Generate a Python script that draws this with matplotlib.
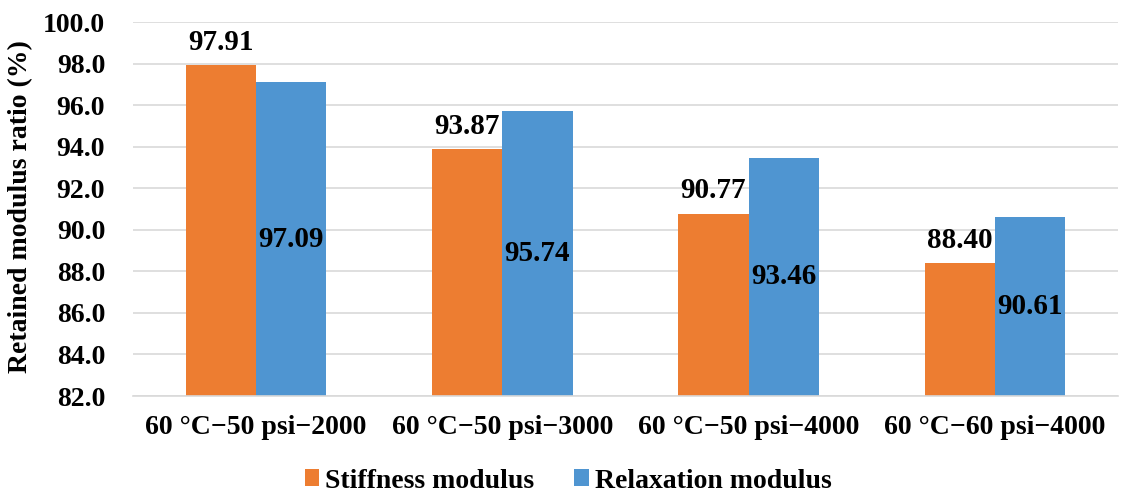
import matplotlib
matplotlib.use("Agg")
import matplotlib.pyplot as plt
import numpy as np

categories = ["60 \u00b0C\u221250 psi\u22122000", "60 \u00b0C\u221250 psi\u22123000",
              "60 \u00b0C\u221250 psi\u22124000", "60 \u00b0C\u221260 psi\u22124000"]
stiffness = [97.91, 93.87, 90.77, 88.40]
relaxation = [97.09, 95.74, 93.46, 90.61]
yticks = [82, 84, 86, 88, 90, 92, 94, 96, 98, 100]

plt.rcParams['font.family'] = ['Liberation Serif', 'DejaVu Serif']
plt.rcParams['font.weight'] = 'bold'

fig = plt.figure(figsize=(11.26, 4.96), dpi=100)
ax = fig.add_axes([133/1126, 1-396/496, (1118-133)/1126, (396-22)/496])

x = np.arange(len(categories))
w = 0.285
orange = '#ED7D31'
blue = '#4F95D1'
b1 = ax.bar(x - w/2, stiffness, w, bottom=0, color=orange, label='Stiffness modulus', zorder=2)
b2 = ax.bar(x + w/2, relaxation, w, bottom=0, color=blue, label='Relaxation modulus', zorder=2)

fs = 20
ax.set_ylim(82, 100)
ax.set_xlim(-0.5, len(categories) - 0.5)
ax.set_yticks(yticks)
ax.set_yticklabels([f"{v:.1f}" for v in yticks], fontsize=fs, fontweight='bold')
ax.set_xticks(x)
ax.set_xticklabels(categories, fontsize=fs, fontweight='bold')
ax.tick_params(axis='both', length=0)
ax.tick_params(axis='y', pad=20)
ax.tick_params(axis='x', pad=14)
ax.grid(axis='y', color='#D9D9D9', linewidth=1.2, zorder=0)
for s in ['top', 'right', 'left']:
    ax.spines[s].set_visible(False)
ax.spines['bottom'].set_color('#D9D9D9')
ax.spines['bottom'].set_linewidth(1.2)

for xi, v in zip(x, stiffness):
    ax.text(xi - w/2, v + 0.45, f"{v:.2f}", ha='center', va='bottom', fontsize=21, fontweight='bold')
for xi, v in zip(x, relaxation):
    ax.text(xi + w/2, (v + 82) / 2, f"{v:.2f}", ha='center', va='center', fontsize=21, fontweight='bold')

ax.set_ylabel("Retained modulus ratio (%)", fontsize=20, fontweight='bold')
ax.yaxis.set_label_coords(-(133-33)/985, (396-207)/374)

fig.legend(handles=[b1, b2], loc='center', bbox_to_anchor=(568/1126, 1-481/496), ncol=2,
           frameon=False, prop={'weight': 'bold', 'size': fs},
           handlelength=0.53, handleheight=0.53, handletextpad=0.2, columnspacing=1.45)

fig.savefig("out.png", dpi=100)
